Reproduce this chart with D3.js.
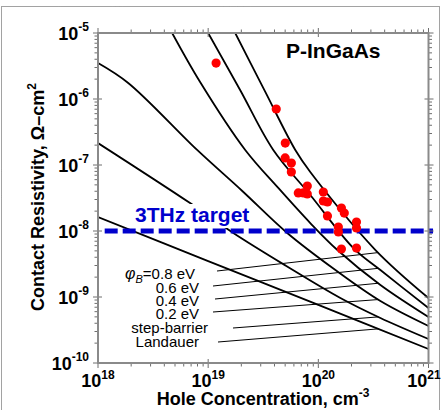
<!DOCTYPE html>
<html lang="en">
<head>
    <meta charset="UTF-8">
    <script src="https://d3js.org/d3.v7.min.js"></script>
    <title>P-InGaAs contact resistivity</title>
    <style>
        body { margin: 0; background: #fff; }
        svg { display: block; font-family: "Liberation Sans", Arial, sans-serif; }
        .curve { fill: none; stroke: #000; stroke-width: 1.8; }
        .leader { stroke: #000; stroke-width: 1; }
        .axisline { stroke: #8a8a8a; stroke-width: 2; fill: none; }
        .tick { stroke: #6e6e6e; stroke-width: 1; }
        .ticklabel { font-weight: bold; font-size: 18px; fill: #000; }
        .curvelabel { font-size: 15px; fill: #000; }
    </style>
</head>
<body>
    <div id="chart"></div>
    <script>
        // curves: hole concentration (cm-3) vs contact resistivity (ohm-cm2)
        var curveNames = ['0.8 eV', '0.6 eV', '0.4 eV', '0.2 eV', 'step-barrier', 'Landauer'];

        var phi08N   = [1.76e19, 3.30e19, 6.18e19, 8.45e19, 3.30e20, 1e21];
        var phi08Rho = [1e-5, 1.28e-6, 1.69e-7, 7.83e-8, 5.15e-9, 9.66e-10];

        var phi06N   = [1e19, 1.95e19, 3.90e19, 8.45e19, 2.08e20, 3.66e20, 1e21];
        var phi06Rho = [1e-5, 1.37e-6, 1.69e-7, 3.51e-8, 5.52e-9, 2.56e-9, 6.81e-10];

        var phi04N   = [4.71e18, 8.45e18, 2.17e19, 4.33e19, 8.45e19, 1.49e20, 3.66e20, 1e21];
        var phi04Rho = [1e-5, 1.81e-6, 1.69e-7, 4.49e-8, 1.32e-8, 5.15e-9, 1.52e-9, 4.98e-10];

        var phi02N   = [1e18, 1.88e18, 7.94e18, 2.04e19, 5.22e19, 1.43e20, 3.66e20, 1e21];
        var phi02Rho = [3.51e-6, 1.75e-6, 1.69e-7, 4.04e-8, 9.33e-9, 2.56e-9, 8.69e-10, 3.64e-10];

        var stepN   = [1e18, 6.85e18, 1.69e19, 5.12e19, 1.585e20, 3.66e20, 1e21];
        var stepRho = [2.15e-7, 2.65e-8, 9.33e-9, 2.95e-9, 9.66e-10, 4.81e-10, 2.31e-10];

        var landauerN   = [1e18, 1e19, 1e20, 1e21];
        var landauerRho = [1.63e-8, 3.5e-9, 7.6e-10, 1.63e-10];

        // measured points (red dots)
        var measN   = [1.18e19, 4.15e19, 5.01e19, 5.0e19, 5.69e19, 5.69e19, 7.94e19, 6.58e19, 7.31e19, 7.94e19,
                       1.11e20, 1.11e20, 1.21e20, 1.21e20, 1.62e20, 1.72e20, 1.52e20, 1.52e20, 2.22e20, 2.22e20,
                       1.62e20, 2.22e20];
        var measRho = [3.5e-6, 7.05e-7, 2.15e-7, 1.28e-7, 1.07e-7, 7.83e-8, 4.81e-8, 3.77e-8, 3.77e-8, 3.64e-8,
                       3.9e-8, 2.85e-8, 2.75e-8, 1.69e-8, 2.23e-8, 1.87e-8, 1.15e-8, 9.66e-9, 1.37e-8, 1.11e-8,
                       5.34e-9, 5.52e-9];

        var targetRho = 1e-8;
        var xTickExp = [18, 19, 20, 21];
        var yTickExp = [-10, -9, -8, -7, -6, -5];

        var width = 443;
        var height = 410;
        var margin = {left: 98, top: 33, right: 14.5, bottom: 47};

        var x = d3.scaleLog()
                  .domain([1e18, 1e21])
                  .range([margin.left, width - margin.right]);
        var y = d3.scaleLog()
                  .domain([1e-10, 1e-5])
                  .range([height - margin.bottom, margin.top]);

        var svg = d3.select('#chart')
                    .append('svg')
                        .attr('width', width)
                        .attr('height', height);

        // dotted frame round the whole picture
        svg.append('rect')
            .attr('x', 1.5).attr('y', 6.5)
            .attr('width', 438).attr('height', 420)
            .attr('fill', 'none')
            .attr('stroke', '#444')
            .attr('stroke-dasharray', '1,1');

        svg.append('clipPath').attr('id', 'plotclip')
            .append('rect')
                .attr('x', x.range()[0]).attr('y', y.range()[1])
                .attr('width', x.range()[1] - x.range()[0])
                .attr('height', y.range()[0] - y.range()[1]);

        var curves = [
            {n: phi08N, rho: phi08Rho},
            {n: phi06N, rho: phi06Rho},
            {n: phi04N, rho: phi04Rho},
            {n: phi02N, rho: phi02Rho},
            {n: stepN, rho: stepRho},
            {n: landauerN, rho: landauerRho}
        ];

        var line = d3.line()
                     .x(function(d) { return x(d[0]); })
                     .y(function(d) { return y(d[1]); })
                     .curve(d3.curveCatmullRom.alpha(0.5));

        var plot = svg.append('g').attr('clip-path', 'url(#plotclip)');

        plot.selectAll('path.curve')
            .data(curves)
            .enter()
            .append('path')
                .attr('class', 'curve')
                .attr('d', function(c) { return line(d3.zip(c.n, c.rho)); });

        // interpolate a curve in log-log space, used for the label leader lines
        function rhoAt(c, n) {
            var ln = Math.log10(n);
            for (var i = 1; i < c.n.length; i++) {
                var a = Math.log10(c.n[i - 1]), b = Math.log10(c.n[i]);
                if (ln <= b) {
                    var t = (ln - a) / (b - a);
                    return Math.pow(10, Math.log10(c.rho[i - 1]) * (1 - t) + Math.log10(c.rho[i]) * t);
                }
            }
            return c.rho[c.rho.length - 1];
        }

        // labels (right edge, baseline) and leader lines
        var labelPos = [[195, 279], [199, 293], [199, 306], [199, 319], [208, 333], [199, 347]];
        var leaderStart = [[217, 271], [213, 286], [215, 299], [213, 312], [233, 328], [218, 342]];
        var leaderTipN = 3.5e20;

        svg.selectAll('line.leader')
            .data(curves)
            .enter()
            .append('line')
                .attr('class', 'leader')
                .attr('x1', function(c, i) { return leaderStart[i][0]; })
                .attr('y1', function(c, i) { return leaderStart[i][1]; })
                .attr('x2', x(leaderTipN))
                .attr('y2', function(c) { return y(rhoAt(c, leaderTipN)); });

        var labels = svg.selectAll('text.curvelabel')
                        .data(curveNames)
                        .enter()
                        .append('text')
                            .attr('class', 'curvelabel')
                            .attr('text-anchor', 'end')
                            .attr('x', function(d, i) { return labelPos[i][0]; })
                            .attr('y', function(d, i) { return labelPos[i][1]; });

        labels.each(function(d, i) {
            var t = d3.select(this);
            if (i === 0) {
                t.append('tspan').attr('font-style', 'italic').attr('font-size', 16).text('\u03c6');
                t.append('tspan').attr('font-style', 'italic').attr('font-size', 11).attr('dy', 4).text('B');
                t.append('tspan').attr('dy', -4).text('=' + d);
            } else {
                t.text(d);
            }
        });

        // 3THz target line
        svg.append('line')
            .attr('x1', x(1.15e18)).attr('x2', x(1.1e21))
            .attr('y1', y(targetRho)).attr('y2', y(targetRho))
            .attr('stroke', '#0000cc')
            .attr('stroke-width', 5)
            .attr('stroke-dasharray', '13,5');

        var target = svg.append('text')
                        .attr('x', 135)
                        .attr('y', y(targetRho) - 9)
                        .attr('font-size', 21)
                        .attr('font-weight', 'bold')
                        .attr('fill', '#0000cc')
                        .text('3THz target');
        var bb = target.node().getBBox();
        svg.insert('rect', 'text')
            .attr('x', bb.x - 2).attr('y', bb.y + 1)
            .attr('width', bb.width + 4).attr('height', y(targetRho) - 3 - bb.y - 1)
            .attr('fill', '#fff');

        // measured points
        svg.append('g')
            .selectAll('circle')
            .data(d3.zip(measN, measRho))
            .enter()
            .append('circle')
                .attr('cx', function(d) { return x(d[0]); })
                .attr('cy', function(d) { return y(d[1]); })
                .attr('r', 4.6)
                .attr('fill', '#ff0000');

        // axes box with ticks on all four sides
        var x0 = x.range()[0], x1 = x.range()[1], y0 = y.range()[0], y1 = y.range()[1];
        var axes = svg.append('g');

        var xMinor = [], yMinor = [];
        for (var e = 18; e < 21; e++) for (var m = 2; m < 10; m++) xMinor.push(m * Math.pow(10, e));
        for (var e2 = -10; e2 < -5; e2++) for (var m2 = 2; m2 < 10; m2++) yMinor.push(m2 * Math.pow(10, e2));

        xMinor.forEach(function(v) {
            axes.append('line').attr('class', 'tick').attr('x1', x(v)).attr('x2', x(v)).attr('y1', y0).attr('y2', y0 + 3.5);
            axes.append('line').attr('class', 'tick').attr('x1', x(v)).attr('x2', x(v)).attr('y1', y1).attr('y2', y1 - 3.5);
        });
        xTickExp.forEach(function(e) {
            var v = Math.pow(10, e);
            axes.append('line').attr('class', 'tick').attr('x1', x(v)).attr('x2', x(v)).attr('y1', y0 - 4).attr('y2', y0 + 5);
            axes.append('line').attr('class', 'tick').attr('x1', x(v)).attr('x2', x(v)).attr('y1', y1 + 4).attr('y2', y1 - 5);
        });
        yMinor.forEach(function(v) {
            axes.append('line').attr('class', 'tick').attr('y1', y(v)).attr('y2', y(v)).attr('x1', x0).attr('x2', x0 - 3.5);
            axes.append('line').attr('class', 'tick').attr('y1', y(v)).attr('y2', y(v)).attr('x1', x1).attr('x2', x1 + 3.5);
        });
        yTickExp.forEach(function(e) {
            var v = Math.pow(10, e);
            axes.append('line').attr('class', 'tick').attr('y1', y(v)).attr('y2', y(v)).attr('x1', x0 + 4).attr('x2', x0 - 5);
            axes.append('line').attr('class', 'tick').attr('y1', y(v)).attr('y2', y(v)).attr('x1', x1 - 4).attr('x2', x1 + 5);
        });

        axes.append('rect')
            .attr('class', 'axisline')
            .attr('x', x0).attr('y', y1)
            .attr('width', x1 - x0).attr('height', y0 - y1);

        // tick labels as 10 with a raised exponent
        svg.selectAll('text.xtl')
            .data(xTickExp)
            .enter()
            .append('text')
                .attr('class', 'ticklabel xtl')
                .attr('text-anchor', 'middle')
                .attr('x', function(e) { return x(Math.pow(10, e)); })
                .attr('y', y0 + 24)
                .each(function(e) {
                    var t = d3.select(this);
                    t.append('tspan').text('10');
                    t.append('tspan').attr('font-size', 12).attr('dy', -8).text(e);
                    // keep the last label inside the picture
                    var b = this.getBBox();
                    if (b.x + b.width > width - 2) t.attr('x', +t.attr('x') - (b.x + b.width - width + 2));
                });

        svg.selectAll('text.ytl')
            .data(yTickExp)
            .enter()
            .append('text')
                .attr('class', 'ticklabel ytl')
                .attr('text-anchor', 'end')
                .attr('x', x0 - 9)
                .attr('y', function(e) { return y(Math.pow(10, e)) + 7; })
                .each(function(e) {
                    var t = d3.select(this);
                    t.append('tspan').text('10');
                    t.append('tspan').attr('font-size', 12).attr('dy', -9).text(e);
                });

        // titles
        var xt = svg.append('text')
                    .attr('x', 263).attr('y', 405)
                    .attr('text-anchor', 'middle')
                    .attr('font-size', 18)
                    .attr('font-weight', 'bold');
        xt.append('tspan').text('Hole Concentration, cm');
        xt.append('tspan').attr('font-size', 12).attr('dy', -8).text('-3');

        var yt = svg.append('text')
                    .attr('transform', 'translate(44,197) rotate(-90)')
                    .attr('text-anchor', 'middle')
                    .attr('font-size', 18)
                    .attr('font-weight', 'bold');
        yt.append('tspan').text('Contact Resistivity, \u03a9\u2013cm');
        yt.append('tspan').attr('font-size', 12).attr('dy', -8).text('2');

        svg.append('text')
            .attr('x', 286).attr('y', 58)
            .attr('font-size', 21)
            .attr('font-weight', 'bold')
            .text('P-InGaAs');
    </script>
</body>
</html>
